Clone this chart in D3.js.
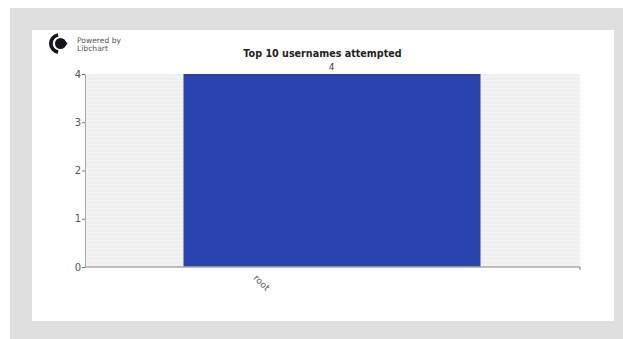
<!DOCTYPE html>
<html><head><meta charset="utf-8">
<style>html,body{margin:0;padding:0;background:#fff;overflow:hidden}svg{display:block}</style>
<script src="https://cdn.jsdelivr.net/npm/d3@7"></script></head>
<body><svg id="c" width="623" height="339"></svg>
<script>
const categories = ["root"];
const values = [4];
const yTicks = [0, 1, 2, 3, 4];
const titleText = "Top 10 usernames attempted";
const logoLines = ["Powered by", "Libchart"];
const font = "'DejaVu Sans', sans-serif";

const svg = d3.select("#c").append("g");

svg.append("rect").attr("x",10).attr("y",8).attr("width",620).attr("height",340).attr("fill","#dfdfdf");
svg.append("rect").attr("x",32).attr("y",30).attr("width",582).attr("height",291).attr("fill","#ffffff");

const m = {left:85, right:580, top:74, bottom:267};
const x = d3.scaleBand().domain(categories).range([m.left,m.right]).paddingInner(0).paddingOuter(1/3);
const y = d3.scaleLinear().domain([0,4]).range([m.bottom,m.top]);

svg.append("rect").attr("x",m.left).attr("y",m.top).attr("width",m.right-m.left).attr("height",m.bottom-m.top).attr("fill","#efefef");
const stripes = d3.range(m.top+2, m.bottom, 4);
svg.append("g").selectAll("line").data(stripes).join("line")
  .attr("x1",m.left).attr("x2",m.right).attr("y1",d=>d+.5).attr("y2",d=>d+.5)
  .attr("stroke","#f4f4f4").attr("stroke-width",1.5);

svg.append("g").selectAll("rect").data(categories).join("rect")
  .attr("x",d=>x(d)-0.5).attr("width",x.bandwidth())
  .attr("y",(d,i)=>y(values[i])).attr("height",(d,i)=>y(0)-y(values[i]))
  .attr("fill","#2a43ae");
svg.append("g").selectAll("text").data(categories).join("text")
  .attr("x",d=>x(d)+x.bandwidth()/2-1).attr("y",(d,i)=>y(values[i])-4)
  .attr("text-anchor","middle").attr("font-family",font).attr("font-size",9).attr("fill","#444")
  .text((d,i)=>values[i]);

const yAxis = d3.axisLeft(y).tickValues(yTicks).tickSize(3).tickPadding(1).tickFormat(d3.format("d"));
const gy = svg.append("g").attr("transform",`translate(${m.left},0)`).call(yAxis);
gy.select(".domain").attr("stroke","#aaa");
gy.selectAll(".tick line").attr("stroke","#777");
gy.selectAll(".tick text").attr("font-family",font).attr("font-size",10).attr("fill","#555");

const gx = svg.append("g").attr("transform",`translate(0,${m.bottom})`);
gx.append("line").attr("x1",m.left).attr("x2",m.right).attr("stroke","#aaa").attr("stroke-width",1.4);
gx.append("line").attr("x1",m.right).attr("x2",m.right).attr("y2",3).attr("stroke","#888");
gx.selectAll("text").data(categories).join("text")
  .attr("transform",d=>`translate(${x(d)+x.bandwidth()/2-73},18) rotate(45)`)
  .attr("text-anchor","middle").attr("font-family",font).attr("font-size",9).attr("fill","#555")
  .text(d=>d);

svg.append("text").attr("x",322.5).attr("y",57).attr("text-anchor","middle")
  .attr("font-family",font).attr("font-weight","bold").attr("font-size",9.6).attr("fill","#222")
  .text(titleText);

// logo: crescent opening to the right, with an arrow-like blob inside
const logo = svg.append("g").attr("transform","translate(59.5,43.5)");
logo.append("path").attr("d",d3.arc()({innerRadius:6.8,outerRadius:10.5,startAngle:Math.PI*1.05,endAngle:Math.PI*1.95}))
  .attr("fill","#14141e");
logo.append("circle").attr("cx",1).attr("r",5.5).attr("fill","#14141e");
logo.append("path").attr("d","M4,-4.5L8,0L4,4.5Z").attr("fill","#14141e");
svg.append("g").selectAll("text").data(logoLines).join("text")
  .attr("x",77).attr("y",(d,i)=>43+i*8).attr("font-family",font).attr("font-size",7.6).attr("fill","#555")
  .text(d=>d);
</script></body></html>
